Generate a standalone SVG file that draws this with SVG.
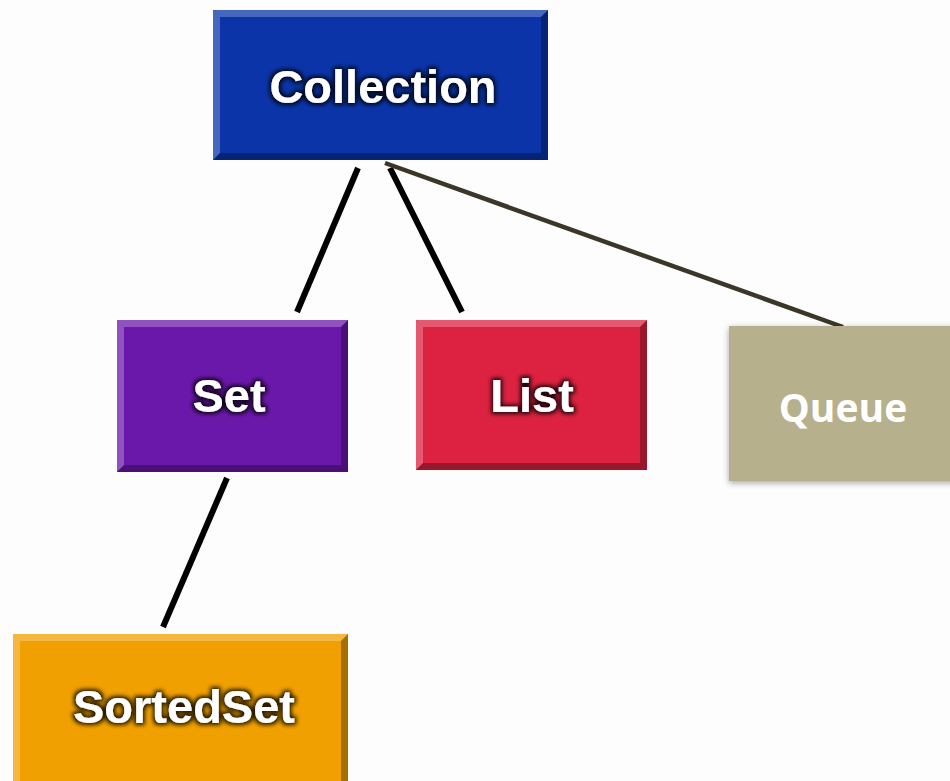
<svg xmlns="http://www.w3.org/2000/svg" width="950" height="781" viewBox="0 0 950 781">
<defs>
<style>
.lbl{font-family:"Liberation Sans",Arial,sans-serif;font-weight:bold;font-size:47px;fill:#ffffff;text-anchor:middle}
.glow{filter:url(#glow)}
.conn{stroke:#000;stroke-width:6;stroke-linecap:butt;fill:none}
.q{font-family:"Open Sans","Noto Sans",sans-serif;font-weight:bold;font-size:39px;fill:#ffffff;text-anchor:middle}
.hi{fill:#ffffff;opacity:0.25}
.sh{fill:#000000;opacity:0.3}
</style>
<filter id="glow" x="-20%" y="-40%" width="140%" height="180%">
<feMorphology in="SourceAlpha" operator="dilate" radius="2" result="d"/>
<feGaussianBlur in="d" stdDeviation="2" result="b"/>
<feFlood flood-color="#000" flood-opacity="0.85"/>
<feComposite in2="b" operator="in" result="s"/>
<feMerge><feMergeNode in="s"/><feMergeNode in="SourceGraphic"/></feMerge>
</filter>
<filter id="boxsh" x="-10%" y="-10%" width="120%" height="130%">
<feGaussianBlur in="SourceAlpha" stdDeviation="3"/>
<feOffset dx="0" dy="2" result="o"/>
<feFlood flood-color="#000" flood-opacity="0.35"/>
<feComposite in2="o" operator="in" result="s"/>
<feMerge><feMergeNode in="s"/><feMergeNode in="SourceGraphic"/></feMerge>
</filter>
</defs>
<rect width="950" height="781" fill="#fdfdfd"/>
<g id="connectors">
<line class="conn" x1="358" y1="168" x2="297" y2="312"/>
<line class="conn" x1="390" y1="168" x2="462" y2="312"/>
<line class="conn" x1="227" y1="478" x2="163" y2="627"/>
<line x1="385" y1="163" x2="843" y2="327" stroke="#3b3628" stroke-width="4.5"/>
</g>
<g id="collection">
<rect x="213" y="10" width="335" height="150" fill="#0a34a8"/>
<polygon class="hi" points="213,10 548,10 541,17 220,17"/>
<polygon class="hi" points="213,10 220,17 220,153 213,160" opacity="0.15"/>
<polygon class="sh" points="213,160 220,153 541,153 548,160"/>
<polygon class="sh" points="548,10 548,160 541,153 541,17"/>
<text class="lbl glow" x="383" y="103">Collection</text>
</g>
<g id="set">
<rect x="117" y="320" width="231" height="152" fill="#6a18aa"/>
<polygon class="hi" points="117,320 348,320 341,327 124,327"/>
<polygon class="hi" points="117,320 124,327 124,465 117,472" opacity="0.15"/>
<polygon class="sh" points="117,472 124,465 341,465 348,472"/>
<polygon class="sh" points="348,320 348,472 341,465 341,327"/>
<text class="lbl glow" x="229" y="412">Set</text>
</g>
<g id="list">
<rect x="416" y="320" width="231" height="150" fill="#dc2240"/>
<polygon class="hi" points="416,320 647,320 640,327 423,327"/>
<polygon class="hi" points="416,320 423,327 423,463 416,470" opacity="0.15"/>
<polygon class="sh" points="416,470 423,463 640,463 647,470"/>
<polygon class="sh" points="647,320 647,470 640,463 640,327"/>
<text class="lbl glow" x="532" y="412">List</text>
</g>
<g id="queue">
<rect x="729" y="326" width="230" height="155" fill="#b6b08c" filter="url(#boxsh)"/>
<text class="q" x="843" y="422">Queue</text>
</g>
<g id="sortedset">
<rect x="13" y="634" width="335" height="150" fill="#f0a000"/>
<polygon class="hi" points="13,634 348,634 341,641 20,641"/>
<polygon class="hi" points="13,634 20,641 20,781 13,781" opacity="0.15"/>
<polygon class="sh" points="348,634 348,781 341,781 341,641"/>
<text class="lbl glow" x="184" y="723">SortedSet</text>
</g>
</svg>
